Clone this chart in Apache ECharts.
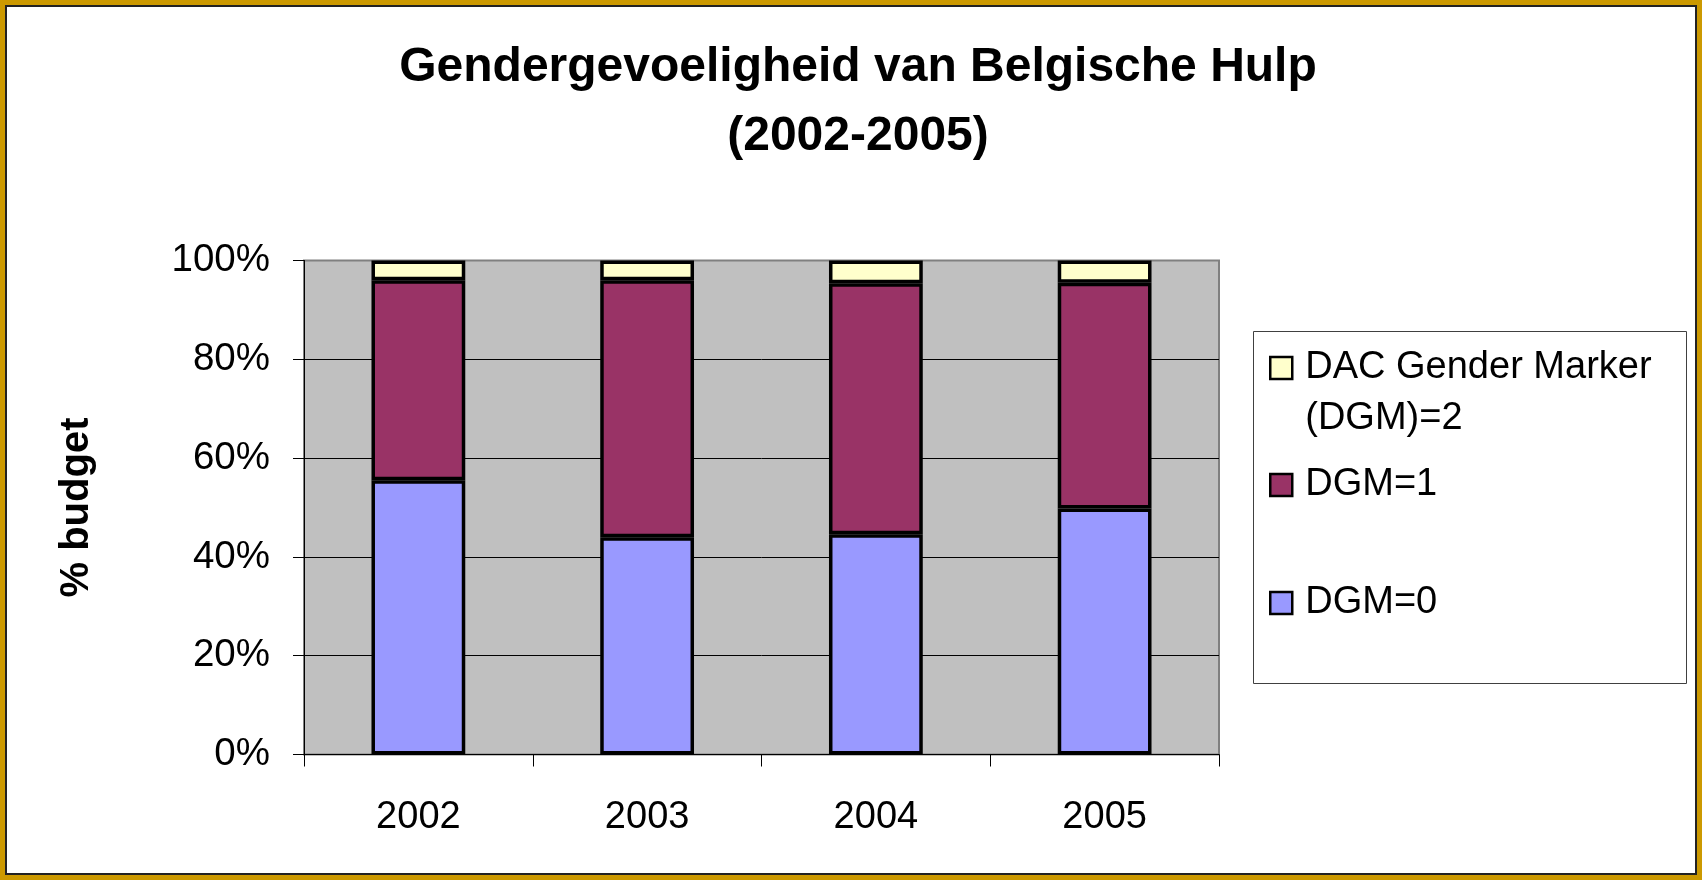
<!DOCTYPE html>
<html>
<head>
<meta charset="utf-8">
<script src="https://cdn.jsdelivr.net/npm/echarts@6/dist/echarts.min.js"></script>
<style>
html,body{margin:0;padding:0;background:#fff;}
#wrap{position:relative;width:1702px;height:880px;}
#chart{position:absolute;left:0;top:0;width:1702px;height:880px;}
#frame{position:absolute;left:0;top:0;width:1702px;height:880px;box-sizing:border-box;border:5px solid #CC9900;box-shadow:inset 0 0 0 2px #222;pointer-events:none;}
</style>
</head>
<body>
<div id="wrap"><div id="chart"></div><div id="frame"></div></div>
<script>
// Data
const categories = ['2002', '2003', '2004', '2005'];
const dgm0 = [55.5, 44.0, 44.6, 49.8];
const dgm1 = [40.5, 52.0, 50.8, 45.7];
const dgm2 = [4.0, 4.0, 4.6, 4.5];
const yTicks = [0, 20, 40, 60, 80, 100];
const seriesNames = ['DGM=0', 'DGM=1', 'DAC Gender Marker (DGM)=2'];
const legendLabels = {'DAC Gender Marker (DGM)=2': ' \nDAC Gender Marker\n(DGM)=2'};
const titleText = 'Gendergevoeligheid van Belgische Hulp\n(2002-2005)';
const yName = '% budget';

const FONT = 'Liberation Sans, Arial, Helvetica, sans-serif';
const chart = echarts.init(document.getElementById('chart'), null, {renderer: 'canvas'});

const barStyle = (c) => ({color: c, borderColor: '#000', borderWidth: 3.5});

chart.setOption({
  animation: false,
  textStyle: {fontFamily: FONT, color: '#000'},
  title: {
    text: titleText,
    left: 858,
    textAlign: 'center',
    top: 33,
    padding: 0,
    textStyle: {fontFamily: FONT, fontSize: 48, fontWeight: 'bold', color: '#000', lineHeight: 69}
  },
  graphic: [{
    type: 'rect', z: 1,
    shape: {x: 1253.5, y: 331.5, width: 433, height: 352},
    style: {fill: '#fff', stroke: '#404040', lineWidth: 1}
  }],
  legend: {
    orient: 'vertical',
    left: 1269, top: 291.5,
    padding: 0,
    z: 10,
    icon: 'rect',
    itemWidth: 22, itemHeight: 22,
    itemGap: -37,
    selectedMode: false,
    formatter: (n) => legendLabels[n] || n,
    itemStyle: {borderWidth: 2.5},
    textStyle: {fontFamily: FONT, fontSize: 38, color: '#000', lineHeight: 51},
    data: [
      {name: seriesNames[2], textStyle: {padding: [0, 0, 0, 8]}},
      {name: seriesNames[1], textStyle: {padding: [52, 0, 52, 8]}},
      {name: seriesNames[0], textStyle: {padding: [52, 0, 52, 8]}}
    ]
  },
  grid: {
    left: 304, top: 260.5, right: 483, bottom: 125.5,
    show: true, backgroundColor: '#C0C0C0', borderColor: '#808080', borderWidth: 2
  },
  xAxis: {
    type: 'category',
    data: categories,
    boundaryGap: true,
    axisLine: {show: true, lineStyle: {color: '#000', width: 1}},
    axisTick: {show: true, length: 12, lineStyle: {color: '#000', width: 1}},
    axisLabel: {fontSize: 38, color: '#000', margin: 44, fontFamily: FONT},
    splitLine: {show: false}
  },
  yAxis: {
    type: 'value',
    min: yTicks[0], max: yTicks[yTicks.length - 1], interval: yTicks[1] - yTicks[0],
    name: yName,
    nameLocation: 'middle',
    nameGap: 207,
    nameTextStyle: {fontSize: 40, fontWeight: 'bold', color: '#000', fontFamily: FONT},
    axisLine: {show: true, lineStyle: {color: '#000', width: 1}},
    axisTick: {show: true, length: 11, lineStyle: {color: '#000', width: 1}},
    axisLabel: {fontSize: 38.5, color: '#000', margin: 34, formatter: '{value}%', fontFamily: FONT},
    splitLine: {show: true, showMaxLine: false, lineStyle: {color: '#000', width: 1}}
  },
  series: [
    {name: seriesNames[0], type: 'bar', stack: 'total', barWidth: '41%', data: dgm0, itemStyle: barStyle('#9999FF')},
    {name: seriesNames[1], type: 'bar', stack: 'total', barWidth: '41%', data: dgm1, itemStyle: barStyle('#993366')},
    {name: seriesNames[2], type: 'bar', stack: 'total', barWidth: '41%', data: dgm2, itemStyle: barStyle('#FFFFCC')}
  ]
});
</script>
</body>
</html>
